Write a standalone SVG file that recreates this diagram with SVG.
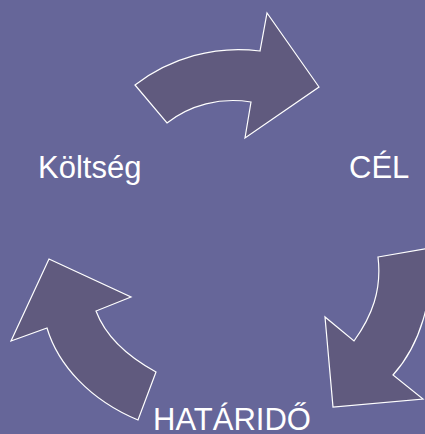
<svg xmlns="http://www.w3.org/2000/svg" width="425" height="434" viewBox="0 0 425 434">
<style>
.arrow{fill:#605a7e;stroke:#ffffff;stroke-width:1.2;stroke-linejoin:miter}
.lbl{font-family:"Liberation Sans",Arial,sans-serif;font-size:31px;fill:#ffffff}
</style>
<rect width="425" height="434" fill="#666699"/>
<g id="connectors">
<path id="arrow-top" class="arrow" d="M135,85 C170,58 215,45 260,51 L267,13 L319,87 L245,138 L251,102 C220,97 190,105 167,123 Z"/>
<path id="arrow-right" class="arrow" d="M378,257 L430,248 C434,300 420,345 393,375 L423,399 L333,407 L325,317 L354,341 C372,316 382,290 378,257 Z"/>
<path id="arrow-left" class="arrow" d="M156,372 C125,355 105,335 96,311 L131,297 L49,259 L11,341 L47,328 C58,365 90,400 138,420 Z"/>
</g>
<g id="node-koltseg"><text class="lbl" x="38" y="178">Költség</text></g>
<g id="node-cel"><text class="lbl" x="349" y="178">CÉL</text></g>
<g id="node-hatarido"><text class="lbl" x="153" y="430">HATÁRIDŐ</text></g>
</svg>
